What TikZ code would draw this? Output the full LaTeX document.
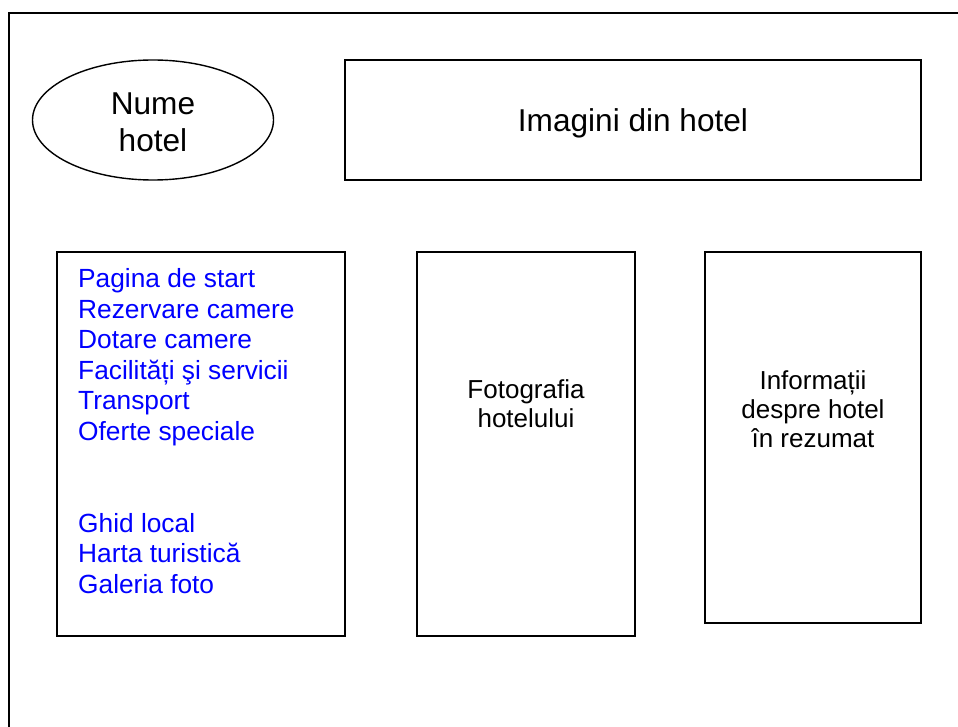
\documentclass[tikz,border=0pt]{standalone}
\usepackage{fontspec}
\setmainfont{Liberation Sans}
\usetikzlibrary{shapes.geometric}
\definecolor{menublue}{RGB}{0,0,255}
\tikzset{
  frameline/.style={line width=2pt},
  boxshape/.style={draw, line width=1.6pt, rectangle, inner sep=0pt},
  ovalshape/.style={draw, line width=1.4pt, ellipse, inner sep=0pt},
  bigtext/.style={font=\fontsize{31.6}{37}\selectfont, align=center},
  smalltext/.style={font=\fontsize{26}{29}\selectfont, align=center, inner sep=0pt, anchor=north},
  menutext/.style={font=\fontsize{26.3}{30.6}\selectfont, text=menublue, align=left, inner sep=0pt, anchor=north west},
}
\begin{document}
\begin{tikzpicture}[x=1pt,y=-1pt]
\useasboundingbox (0,0) rectangle (958,727);
% outer frame (top and left only)
\coordinate (fTL) at (9,13);
\coordinate (fTR) at (958,13);
\coordinate (fBL) at (9,727);
\draw[frameline] (fTR) -- (fTL) -- (fBL);
% header
\node[ovalshape, minimum width=241pt, minimum height=120pt] (nume) at (153,120) {};
\node[bigtext, inner sep=0pt, anchor=north] (numetext) at (153,92.6) {Nume\\hotel};
\node[boxshape, minimum width=576pt, minimum height=120pt] (imagini) at (633,120) {};
\node[bigtext, anchor=base] (imaginitext) at (633,132) {Imagini din hotel};
% columns
\node[boxshape, minimum width=288pt, minimum height=384pt] (menu) at (201,444) {};
\node[boxshape, minimum width=218pt, minimum height=384pt] (foto) at (526,444) {};
\node[boxshape, minimum width=216pt, minimum height=371pt] (info) at (813,437.5) {};
\node[menutext] (menutxt) at (78,268.2) {Pagina de start\\Rezervare camere\\Dotare camere\\Facilități şi servicii\\Transport\\Oferte speciale\\[61.2pt]Ghid local\\Harta turistică\\Galeria foto};
\node[smalltext] (fototxt) at (526,379.5) {Fotografia\\hotelului};
\node[smalltext] (infotxt) at (813,370) {Informații\\despre hotel\\în rezumat};
\end{tikzpicture}
\end{document}
